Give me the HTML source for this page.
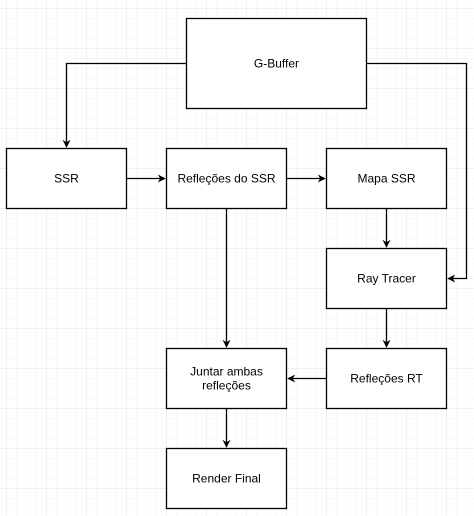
<!DOCTYPE html>
<html><head><style>
html,body{margin:0;padding:0;background:#fff;}
svg{display:block;}
text{font-family:"Liberation Sans",Arial,sans-serif;font-size:12px;fill:#000;text-anchor:middle;}
</style></head><body>
<svg width="474" height="516" viewBox="0 0 474 516" xmlns="http://www.w3.org/2000/svg">
<defs>
<pattern id="minor" x="6.5" y="8.5" width="10" height="10" patternUnits="userSpaceOnUse">
<path d="M0 0H10M0 0V10" stroke="#f3f3f3" stroke-width="1" fill="none"/>
</pattern>
<pattern id="major" x="6.5" y="8.5" width="40" height="40" patternUnits="userSpaceOnUse">
<path d="M0 0H40M0 0V40" stroke="#e2e2e2" stroke-width="1" fill="none"/>
</pattern>
<marker id="a" viewBox="0 0 10 10" refX="9" refY="5" markerWidth="8" markerHeight="8" orient="auto" markerUnits="userSpaceOnUse">
<path d="M0 0L10 5L0 10L3 5Z" fill="#000"/>
</marker>
</defs>
<rect width="474" height="516" fill="url(#minor)"/>
<rect width="474" height="516" fill="url(#major)"/>
<g stroke="#000" stroke-width="1.3" fill="none">
<path d="M186.5 63.5H66.5V147" marker-end="url(#a)"/>
<path d="M366.5 63.5H466.5V278.5H448" marker-end="url(#a)"/>
<path d="M126.5 178.5H165" marker-end="url(#a)"/>
<path d="M286.5 178.5H325" marker-end="url(#a)"/>
<path d="M386.5 208.5V247" marker-end="url(#a)"/>
<path d="M386.5 308.5V347" marker-end="url(#a)"/>
<path d="M226.5 208.5V347" marker-end="url(#a)"/>
<path d="M326.5 378.5H288" marker-end="url(#a)"/>
<path d="M226.5 408.5V447" marker-end="url(#a)"/>
</g>
<g stroke="#000" stroke-width="1.3" fill="#fff">
<rect x="186.5" y="18.5" width="180" height="90"/>
<rect x="6.5" y="148.5" width="120" height="60"/>
<rect x="166.5" y="148.5" width="120" height="60"/>
<rect x="326.5" y="148.5" width="120" height="60"/>
<rect x="326.5" y="248.5" width="120" height="60"/>
<rect x="326.5" y="348.5" width="120" height="60"/>
<rect x="166.5" y="348.5" width="120" height="60"/>
<rect x="166.5" y="448.5" width="120" height="60"/>
</g>
<text x="276.5" y="67.5">G-Buffer</text>
<text x="66.5" y="182.5">SSR</text>
<text x="226.5" y="182.5">Refleções do SSR</text>
<text x="386.5" y="182.5">Mapa SSR</text>
<text x="386.5" y="282.5">Ray Tracer</text>
<text x="386.5" y="382.5">Refleções RT</text>
<text x="226.5" y="375.5">Juntar ambas</text>
<text x="226.5" y="389.5">refleções</text>
<text x="226.5" y="482.5">Render Final</text>
</svg>
</body></html>
